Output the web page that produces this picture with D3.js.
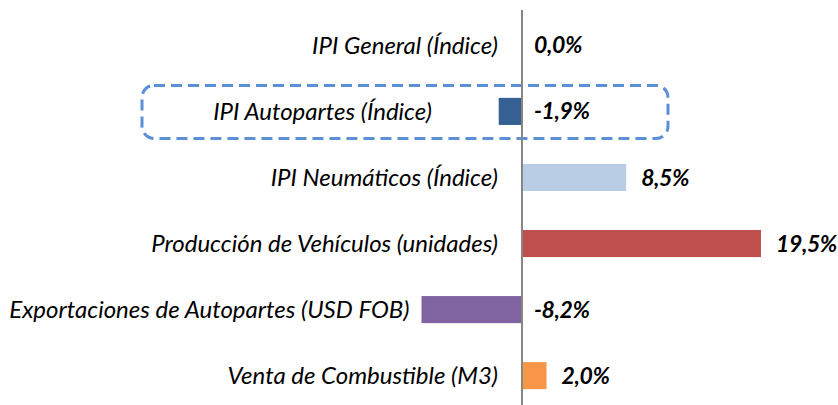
<!DOCTYPE html>
<style>
  body { margin: 0; background: #fff; }
  svg { display: block; }
  .cat { font-family: Lato, "Open Sans", sans-serif; font-style: italic; font-size: 24px; fill: #000; }
  .val { font-family: Lato, "Open Sans", sans-serif; font-style: italic; font-weight: bold; font-size: 23px; letter-spacing: -0.4px; fill: #000; }
</style>
<body>
</body>
<script src="https://cdn.jsdelivr.net/npm/d3@7"></script>
<script>
  const categories = [
    'IPI General (Índice)',
    'IPI Autopartes (Índice)',
    'IPI Neumáticos (Índice)',
    'Producción de Vehículos (unidades)',
    'Exportaciones de Autopartes (USD FOB)',
    'Venta de Combustible (M3)'
  ];
  const values = [0.0, -1.9, 8.5, 19.5, -8.2, 2.0];
  const labels = ['0,0%', '-1,9%', '8,5%', '19,5%', '-8,2%', '2,0%'];
  const colors = ['#4F81BD', '#376092', '#B9CDE5', '#C0504D', '#8064A2', '#F79646'];
  const highlighted = 'IPI Autopartes (Índice)';

  const w = 838, h = 405;
  const svg = d3.select('body').append('svg')
    .attr('width', w)
    .attr('height', h);

  const x = d3.scaleLinear().domain([0, 19.5]).range([522, 761]);
  const y = d3.scaleBand().domain(categories).range([12, 409]).paddingInner(0.59).paddingOuter(0.3);

  const rows = categories.map((c, i) => ({c, v: values[i], label: labels[i], color: colors[i]}));

  // highlight box round one row
  const hy = y(highlighted) + y.bandwidth() / 2;
  svg.append('rect')
    .attr('x', 142).attr('y', hy - 26)
    .attr('width', 668 - 142).attr('height', 53)
    .attr('rx', 12).attr('ry', 12)
    .attr('fill', 'none')
    .attr('stroke', '#5B8FD6')
    .attr('stroke-width', 3)
    .attr('stroke-dasharray', '11 6');

  svg.append('g').selectAll('rect')
    .data(rows)
    .join('rect')
    .attr('x', d => x(Math.min(0, d.v)))
    .attr('y', d => y(d.c))
    .attr('width', d => Math.abs(x(d.v) - x(0)))
    .attr('height', y.bandwidth())
    .attr('fill', d => d.color);

  // zero axis
  svg.append('line')
    .attr('x1', x(0)).attr('x2', x(0))
    .attr('y1', 10).attr('y2', h)
    .attr('stroke', '#868686')
    .attr('stroke-width', 2);

  svg.append('g').selectAll('text')
    .data(rows)
    .join('text')
    .attr('class', 'cat')
    .attr('text-anchor', 'end')
    .attr('x', d => d.c === highlighted ? 432 : Math.min(x(0) - 24, x(d.v) - 12))
    .attr('y', d => y(d.c) + y.bandwidth() / 2)
    .attr('dy', '0.35em')
    .text(d => d.c);

  svg.append('g').selectAll('text')
    .data(rows)
    .join('text')
    .attr('class', 'val')
    .attr('x', d => x(Math.max(0, d.v)) + (d.v > 0 ? 15 : 12))
    .attr('y', d => y(d.c) + y.bandwidth() / 2)
    .attr('dy', '0.35em')
    .text(d => d.label);
</script>
